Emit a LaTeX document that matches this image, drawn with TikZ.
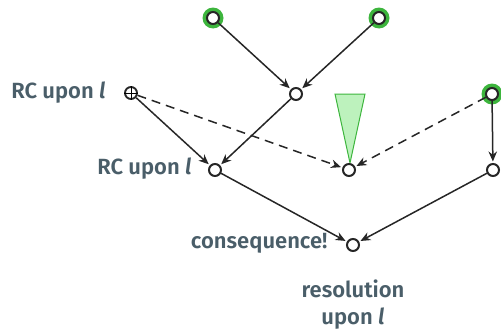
\documentclass[tikz,border=0pt]{standalone}
\usepackage{fontspec}
\setmainfont{Fira Sans}[UprightFont=* SemiBold, BoldFont=* Bold, ItalicFont=* SemiBold Italic]
\usetikzlibrary{arrows.meta}
\definecolor{slate}{HTML}{4A5E69}
\definecolor{ringgreen}{HTML}{3DB53D}
\definecolor{fillgreen}{HTML}{BDF2BD}
\tikzset{
  x=1pt, y=-1pt,
  vtx/.style={circle, draw=black!85, line width=2pt, fill=white, inner sep=0pt, minimum size=12pt},
  crossed/.style={circle, draw=black!85, line width=1.9pt, inner sep=0pt, minimum size=12pt,
    append after command={[black!85, line width=1.6pt]
      (\tikzlastnode.north) edge[-] (\tikzlastnode.south)
      (\tikzlastnode.west) edge[-] (\tikzlastnode.east)}},
  lbl/.style={text=slate, font=\fontsize{22}{26}\selectfont},
  arr/.style={-{Stealth[length=10pt,width=8.5pt]}, line width=1.5pt, draw=black!85, shorten >=1.5pt},
  darr/.style={arr, dash pattern=on 9pt off 6pt},
}
\begin{document}
\begin{tikzpicture}
\useasboundingbox (0,0) rectangle (501,332);
% green seed triangle
\fill[fillgreen, draw=ringgreen, line width=1pt] (335,94) -- (365,94) -- (350,163) -- cycle;
% nodes
\node[vtx] (c) at (349,170) {};
\fill[ringgreen] (213,18) circle (10.5pt);
\fill[ringgreen] (379,18) circle (10.5pt);
\fill[ringgreen] (492,94) circle (10.5pt);
\node[vtx] (t1) at (213,18) {};
\node[vtx] (t2) at (379,18) {};
\node[vtx] (m) at (296,94) {};
\node[crossed] (p) at (131,93) {};
\node[vtx] (r) at (492,94) {};
\node[vtx] (a) at (215,170) {};
\node[vtx] (d) at (493,170) {};
\node[vtx] (e) at (353,245) {};
% labels
\node[lbl, anchor=east] (l1) at (109,93) {RC upon \textit{l}};
\node[lbl, anchor=east] (l2) at (195,169) {RC upon \textit{l}};
\node[lbl, anchor=east] (l3) at (331,243) {consequence!};
\node[lbl, align=center, font=\fontsize{22}{27}\selectfont] (l4) at (353,305) {resolution\\upon \textit{l}};
% edges
\draw[arr] (t1) -- (m);
\draw[arr] (t2) -- (m);
\draw[arr] (m) -- (a);
\draw[arr] (p) -- (a);
\draw[darr] (p) -- (c);
\draw[darr] (r) -- (c);
\draw[arr] (r) -- (d);
\draw[arr] (a) -- (e);
\draw[arr] (d) -- (e);
\end{tikzpicture}
\end{document}
